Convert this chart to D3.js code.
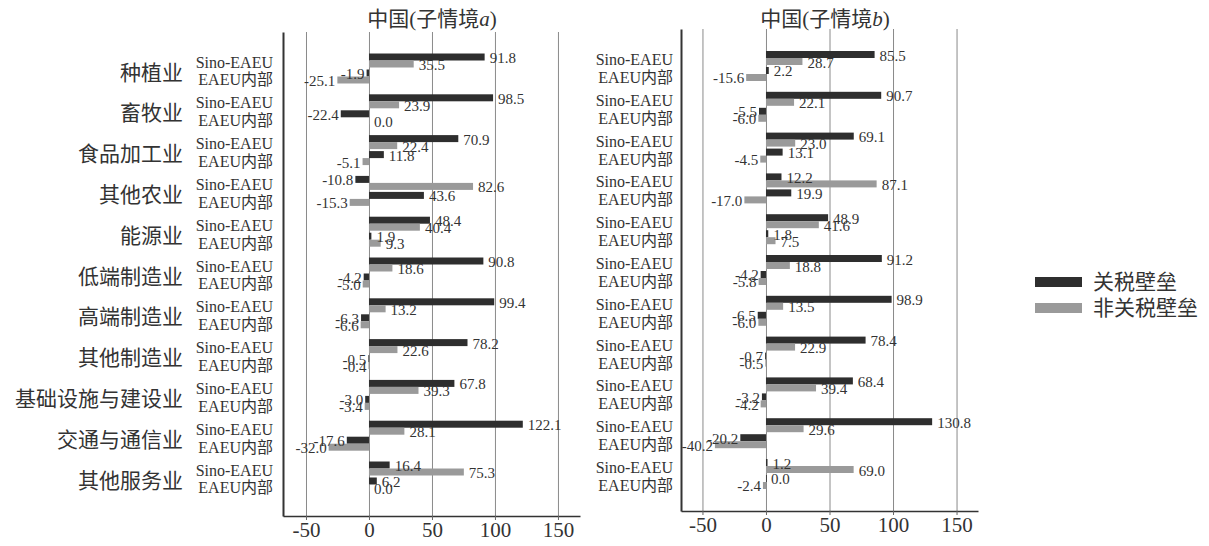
<!DOCTYPE html>
<html>
<head>
<meta charset="utf-8">
<script src="https://cdn.jsdelivr.net/npm/d3@7"></script>
<style>
  body { margin: 0; background: #fff; }
  text { font-family: "Liberation Serif", "Noto Sans CJK SC", serif; fill: #333; }
</style>
</head>
<body>
<div id="chart"></div>
<script>
var svgWidth = 1209;
var svgHeight = 546;

// categories and sub rows
var categories = ["种植业", "畜牧业", "食品加工业", "其他农业", "能源业", "低端制造业",
  "高端制造业", "其他制造业", "基础设施与建设业", "交通与通信业", "其他服务业"];
var subRows = ["Sino-EAEU", "EAEU内部"];
var series = ["关税壁垒", "非关税壁垒"];
var tickValues = [-50, 0, 50, 100, 150];

// 子情境a
var aSinoTariff = [91.8, 98.5, 70.9, -10.8, 48.4, 90.8, 99.4, 78.2, 67.8, 122.1, 16.4];
var aSinoNonTariff = [35.5, 23.9, 22.4, 82.6, 40.4, 18.6, 13.2, 22.6, 39.3, 28.1, 75.3];
var aInnerTariff = [-1.9, -22.4, 11.8, 43.6, 1.9, -4.2, -6.3, -0.5, -3.0, -17.6, 6.2];
var aInnerNonTariff = [-25.1, 0.0, -5.1, -15.3, 9.3, -5.0, -6.6, -0.4, -3.4, -32.0, 0.0];

// 子情境b
var bSinoTariff = [85.5, 90.7, 69.1, 12.2, 48.9, 91.2, 98.9, 78.4, 68.4, 130.8, 1.2];
var bSinoNonTariff = [28.7, 22.1, 23.0, 87.1, 41.6, 18.8, 13.5, 22.9, 39.4, 29.6, 69.0];
var bInnerTariff = [2.2, -5.5, 13.1, 19.9, 1.8, -4.2, -6.5, -0.7, -3.2, -20.2, 0.0];
var bInnerNonTariff = [-15.6, -6.0, -4.5, -17.0, 7.5, -5.8, -6.0, -0.5, -4.2, -40.2, -2.4];

var colors = { "关税壁垒": "#2e2e2e", "非关税壁垒": "#9a9a9a" };

var svg = d3.select("#chart")
  .append("svg")
  .attr("width", svgWidth)
  .attr("height", svgHeight);

// flatten arrays into rows for one panel
function buildRows(sinoT, sinoN, innerT, innerN) {
  var rows = [];
  categories.forEach(function(c, i) {
    rows.push({ cat: c, sub: subRows[0], ser: series[0], value: sinoT[i] });
    rows.push({ cat: c, sub: subRows[0], ser: series[1], value: sinoN[i] });
    rows.push({ cat: c, sub: subRows[1], ser: series[0], value: innerT[i] });
    rows.push({ cat: c, sub: subRows[1], ser: series[1], value: innerN[i] });
  });
  return rows;
}

function drawPanel(p) {
  var g = svg.append("g");

  var x = d3.scaleLinear().domain(p.xDomain).range([p.left, p.right]);

  var step = 40.8;
  var y0 = d3.scaleBand()
    .domain(categories)
    .range([p.barTop - 5.4, p.barTop - 5.4 + step * 11])
    .paddingInner(0.265)
    .paddingOuter(0.1325);
  var y1 = d3.scaleBand().domain(subRows).range([0, y0.bandwidth()]).paddingInner(0.125);
  var y2 = d3.scaleBand().domain(series).range([0, y1.bandwidth()]);

  // gridlines
  g.append("g")
    .attr("transform", `translate(0, ${p.bottom})`)
    .call(d3.axisBottom(x).tickValues(tickValues).tickSize(-(p.bottom - p.top)).tickSizeOuter(0).tickFormat(""))
    .call(s => s.select(".domain").remove())
    .selectAll("line")
    .attr("stroke", "#8a8a8a")
    .attr("stroke-width", 1);

  // bottom axis
  var xAxis = g.append("g")
    .attr("transform", `translate(0, ${p.bottom})`)
    .call(d3.axisBottom(x).tickValues(tickValues).tickSize(4).tickSizeOuter(0).tickFormat(d => String(d)));
  xAxis.select(".domain").attr("stroke", "#333").attr("stroke-width", 1.5);
  xAxis.selectAll(".tick line").attr("stroke", "#666");
  xAxis.selectAll(".tick text")
    .attr("y", 6)
    .style("font-size", "21px")
    .style("font-family", "Liberation Serif, serif")
    .attr("fill", "#333");

  // left axis line
  var yAxis = g.append("g")
    .attr("transform", `translate(${p.left}, 0)`)
    .call(d3.axisLeft(d3.scaleLinear().range([p.top, p.bottom])).tickValues([]).tickSizeOuter(0));
  yAxis.select(".domain").attr("stroke", "#333").attr("stroke-width", 2);

  // bars
  var rows = buildRows.apply(null, p.data);
  g.append("g").selectAll("rect")
    .data(rows)
    .enter()
    .append("rect")
    .attr("x", d => x(Math.min(0, d.value)))
    .attr("y", d => y0(d.cat) + y1(d.sub) + y2(d.ser))
    .attr("width", d => Math.max(Math.abs(x(d.value) - x(0)), 0.8))
    .attr("height", y2.bandwidth())
    .attr("fill", d => colors[d.ser]);

  // value labels
  g.append("g").selectAll("text")
    .data(rows)
    .enter()
    .append("text")
    .attr("x", d => d.value >= 0 ? x(d.value) + 5 : x(d.value) - 2)
    .attr("y", d => y0(d.cat) + y1(d.sub) + y2(d.ser) + y2.bandwidth() / 2 + 6)
    .attr("text-anchor", d => d.value >= 0 ? "start" : "end")
    .style("font-size", "15px")
    .attr("fill", "#444")
    .text(d => d.value.toFixed(1));

  // sub row labels
  categories.forEach(function(c) {
    subRows.forEach(function(s, j) {
      g.append("text")
        .attr("x", p.subX)
        .attr("y", y0(c) + y1(s) + y1.bandwidth() / 2 + 7 + (j === 0 ? 0 : 2))
        .attr("text-anchor", "end")
        .style("font-size", "16px")
        .text(s);
    });
    if (p.catX) {
      g.append("text")
        .attr("x", p.catX)
        .attr("y", y0(c) + y0.bandwidth() / 2 + 11)
        .attr("text-anchor", "end")
        .style("font-size", "21px")
        .style("font-family", "Noto Sans CJK SC, sans-serif")
        .attr("fill", "#444")
        .text(c);
    }
  });

  // title
  var title = g.append("text")
    .attr("x", p.titleX)
    .attr("y", 26)
    .attr("text-anchor", "middle")
    .style("font-size", "21px");
  title.append("tspan").style("font-family", "Noto Sans CJK SC, sans-serif").text("中国");
  title.append("tspan").text("(");
  title.append("tspan").style("font-family", "Noto Sans CJK SC, sans-serif").text("子情境");
  title.append("tspan").style("font-style", "italic").text(p.letter);
  title.append("tspan").text(")");
}

drawPanel({
  left: 283, right: 580, top: 32, bottom: 516,
  xDomain: [-68.25, 167.5],
  barTop: 53.5,
  subX: 273, catX: 183,
  titleX: 432, letter: "a",
  data: [aSinoTariff, aSinoNonTariff, aInnerTariff, aInnerNonTariff]
});

drawPanel({
  left: 681, right: 978, top: 29, bottom: 511,
  xDomain: [-66.9, 166.9],
  barTop: 51,
  subX: 673, catX: null,
  titleX: 825, letter: "b",
  data: [bSinoTariff, bSinoNonTariff, bInnerTariff, bInnerNonTariff]
});

// legend
var legend = svg.append("g").attr("transform", "translate(1035, 277)");
series.forEach(function(s, i) {
  legend.append("rect")
    .attr("x", 0)
    .attr("y", i * 26)
    .attr("width", 47)
    .attr("height", 10)
    .attr("fill", colors[s]);
  legend.append("text")
    .attr("x", 58)
    .attr("y", i * 26 + 12)
    .style("font-size", "21px")
    .style("font-family", "Noto Sans CJK SC, sans-serif")
    .attr("fill", "#444")
    .text(s);
});
</script>
</body>
</html>
